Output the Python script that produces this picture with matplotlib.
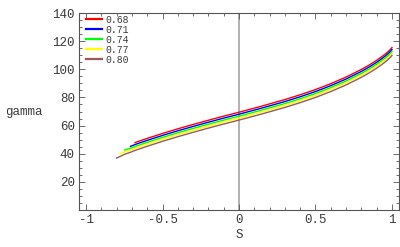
import numpy as np
import matplotlib
matplotlib.use("Agg")
import matplotlib.pyplot as plt
from matplotlib.ticker import MultipleLocator

# DATA

labels = ["0.68", "0.71", "0.74", "0.77", "0.80"]
colors = ["#ff0000", "#0000ff", "#00ff00", "#ffff00", "#9a5a5a"]

common_s = [-0.4, -0.3, -0.2, -0.1, 0.0, 0.1, 0.2, 0.3, 0.4, 0.5, 0.6, 0.7,
            0.8, 0.85, 0.9, 0.94, 0.97, 0.99, 1.0]

s_068 = [-0.68, -0.6, -0.5] + common_s
g_068 = [47.9, 50.9, 54.4,
         57.7, 60.8, 63.8, 66.7, 69.5, 72.4, 75.4, 78.5, 81.9, 85.6, 89.8, 94.5,
         99.9, 103.0, 106.4, 109.5, 112.1, 114.2, 115.5]

s_071 = [-0.71, -0.68, -0.6, -0.5] + common_s
g_071 = [45.2, 46.5, 49.5, 53.0,
         56.3, 59.4, 62.4, 65.3, 68.1, 71.0, 74.0, 77.1, 80.5, 84.2, 88.4, 93.1,
         98.5, 101.6, 105.0, 108.1, 110.7, 112.8, 114.1]

s_074 = [-0.748, -0.71, -0.68, -0.6, -0.5] + common_s
g_074 = [42.6, 43.9, 45.1, 48.1, 51.6,
         54.9, 58.0, 61.0, 63.9, 66.7, 69.6, 72.6, 75.7, 79.1, 82.8, 87.0, 91.7,
         97.1, 100.2, 103.6, 106.7, 109.3, 111.4, 112.7]

s_077 = [-0.776, -0.748, -0.71, -0.68, -0.6, -0.5] + common_s
g_077 = [40.0, 41.2, 42.5, 43.7, 46.7, 50.2,
         53.5, 56.6, 59.6, 62.5, 65.3, 68.2, 71.2, 74.3, 77.7, 81.4, 85.6, 90.3,
         95.7, 98.8, 102.2, 105.3, 107.9, 110.0, 111.3]

s_080 = [-0.8, -0.776, -0.748, -0.71, -0.68, -0.6, -0.5] + common_s
g_080 = [36.9, 38.1, 39.6, 41.0, 42.3, 45.3, 48.8,
         52.1, 55.2, 58.2, 61.1, 63.9, 66.8, 69.8, 72.9, 76.3, 80.0, 84.2, 88.9,
         94.3, 97.4, 100.8, 103.9, 106.5, 108.6, 109.9]

series_s = [s_068, s_071, s_074, s_077, s_080]
series_g = [g_068, g_071, g_074, g_077, g_080]

x_ticks = [-1, -0.5, 0, 0.5, 1]
x_tick_labels = ["-1", "-0.5", "0", "0.5", "1"]
y_ticks = [20, 40, 60, 80, 100, 120, 140]
y_tick_labels = ["20", "40", "60", "80", "100", "120", "140"]

# FIGURE

mono = "Liberation Mono"
txt = "#3a3a3a"
frame = "#555555"

fig = plt.figure(figsize=(4.0, 2.47), dpi=100)
ax = fig.add_axes([0.1975, 0.15, 0.8, 0.797])

ax.axvline(0, color="#b0b0b0", linewidth=1.4, zorder=1)

for s, g, c, lab in zip(series_s, series_g, colors, labels):
    ax.plot(s, g, color=c, linewidth=1.0, label=lab, zorder=2)

ax.set_xlim(-1.046, 1.046)
ax.set_ylim(0, 140)

ax.set_xticks(x_ticks)
ax.set_xticklabels(x_tick_labels, fontfamily=mono, fontsize=9, color=txt)
ax.set_yticks(y_ticks)
ax.set_yticklabels(y_tick_labels, fontfamily=mono, fontsize=9, color=txt)
ax.xaxis.set_minor_locator(MultipleLocator(0.1))
ax.yaxis.set_minor_locator(MultipleLocator(5))

ax.tick_params(which="both", direction="in", top=True, right=True,
               color=frame, width=0.6)
ax.tick_params(which="major", length=4, pad=3)
ax.tick_params(which="minor", length=2)

for sp in ax.spines.values():
    sp.set_color(frame)
    sp.set_linewidth(0.8)

ax.set_xlabel("S", fontfamily=mono, fontsize=9, color=txt, labelpad=2)
ax.set_ylabel("gamma", fontfamily=mono, fontsize=9, color=txt,
              rotation=0, ha="left", va="center")
ax.yaxis.set_label_coords(-0.23, 0.5)

leg = ax.legend(loc="upper left", bbox_to_anchor=(0.012, 1.01), frameon=False,
                prop={"family": mono, "size": 7}, handlelength=1.65,
                handletextpad=0.3, labelspacing=0.0, borderaxespad=0.15,
                borderpad=0.2)
for t in leg.get_texts():
    t.set_color(txt)
for h in leg.get_lines():
    h.set_linewidth(1.6)

fig.savefig("out.png", dpi=100)
